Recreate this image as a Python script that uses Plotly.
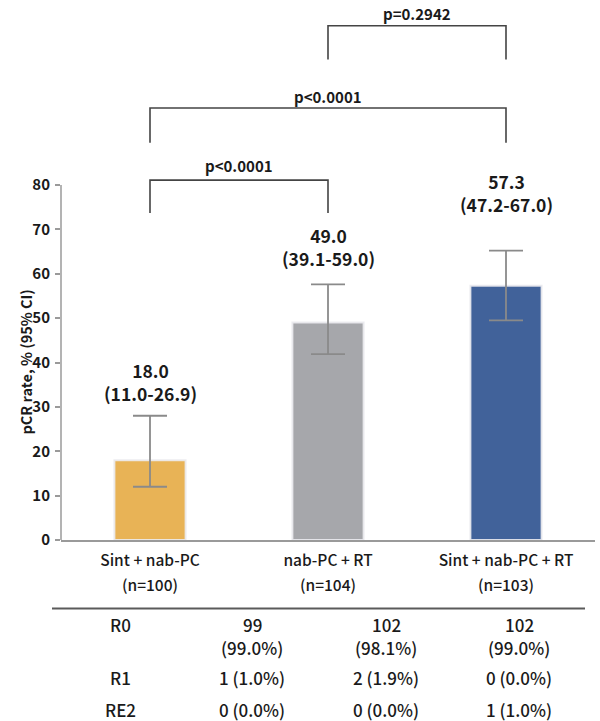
import plotly.graph_objects as go

# ---- data ----
categories = ["Sint + nab-PC", "nab-PC + RT", "Sint + nab-PC + RT"]
n_patients = [100, 104, 103]
pcr_rate = [18.0, 49.0, 57.3]
ci_text = ["(11.0-26.9)", "(39.1-59.0)", "(47.2-67.0)"]
ci_low_drawn = [12.0, 41.9, 49.5]
ci_high_drawn = [28.0, 57.6, 65.2]
bar_colors = ["#E8B356", "#A6A7AB", "#41629A"]
label_y = [35.6, 66.1, 78.2]

# p-value brackets
bracket_left = [0, 0, 1]
bracket_right = [1, 2, 2]
bracket_text = ["p<0.0001", "p<0.0001", "p=0.2942"]
bracket_level = [81.1, 97.35, 115.9]
bracket_leg = [73.7, 89.5, 108.3]
bracket_text_y = [84.3, 99.9, 118.7]

y_ticks = [0, 10, 20, 30, 40, 50, 60, 70, 80]

row_labels = ["R0", "R1", "RE2"]
row_counts = [[99, 102, 102], [1, 2, 0], [0, 0, 1]]
row_pcts = [["99.0%", "98.1%", "99.0%"], ["1.0%", "1.9%", "0.0%"], ["0.0%", "0.0%", "1.0%"]]
row_two_lines = [True, False, False]

FONT = "Noto Sans CJK KR"

# ---- geometry (pixels) ----
W, H = 600, 721
L, R, T, B = 61, 5, 5, 181
plot_w = W - L - R
plot_h = H - T - B
px_per_unit = 355 / 80.0
y_top = plot_h / px_per_unit


def px2paper_x(px):
    return (px - L) / plot_w


def py2paper_y(py):
    return (H - B - py) / plot_h


err_plus = [h - v for h, v in zip(ci_high_drawn, pcr_rate)]
err_minus = [v - l for l, v in zip(ci_low_drawn, pcr_rate)]

fig = go.Figure()
fig.add_trace(go.Bar(
    x=categories,
    y=pcr_rate,
    width=0.4,
    marker=dict(color=bar_colors, line=dict(color="rgba(235,235,240,0.9)", width=2)),
    error_y=dict(type="data", symmetric=False, array=err_plus, arrayminus=err_minus,
                 color="#8a8a8a", thickness=1.8, width=17),
    showlegend=False,
    hoverinfo="skip",
))

annotations = []
shapes = []

# value labels
for i, c in enumerate(categories):
    annotations.append(dict(
        x=c, y=label_y[i], xref="x", yref="y",
        text=f"{pcr_rate[i]:.1f}<br>{ci_text[i]}",
        showarrow=False, yanchor="middle", xanchor="center",
        font=dict(family=FONT, size=17.5, color="#1a1a1a", weight="bold"),
    ))
    # second line of category label: group size
    annotations.append(dict(
        x=c, y=py2paper_y(583.5), xref="x", yref="paper",
        text=f"(n={n_patients[i]})", showarrow=False, borderpad=0,
        yanchor="middle", xanchor="center",
        font=dict(family=FONT, size=15.5, color="#1a1a1a", weight=500),
    ))

# brackets
for lft, rgt, txt, lvl, leg, ty in zip(bracket_left, bracket_right, bracket_text,
                                        bracket_level, bracket_leg, bracket_text_y):
    path = f"M {lft},{leg} L {lft},{lvl} L {rgt},{lvl} L {rgt},{leg}"
    shapes.append(dict(type="path", xref="x", yref="y",
                       path=path, line=dict(color="#444444", width=1.6)))
    annotations.append(dict(
        x=(lft + rgt) / 2, y=ty, xref="x", yref="y", text=txt, showarrow=False,
        yanchor="middle", xanchor="center",
        font=dict(family=FONT, size=15, color="#1a1a1a", weight="bold"),
    ))

# y axis line (0..80)
shapes.append(dict(type="line", xref="paper", yref="y", x0=0, x1=0, y0=0, y1=y_ticks[-1],
                   line=dict(color="#9a9a9a", width=1.5)))

# y axis title
annotations.append(dict(
    x=px2paper_x(25), y=40, xref="paper", yref="y", text="pCR rate, % (95% CI)",
    textangle=-90, showarrow=False, xanchor="center", yanchor="middle",
    font=dict(family=FONT, size=14.5, color="#1a1a1a", weight="bold"),
))

# table separator line
shapes.append(dict(type="line", xref="paper", yref="paper",
                   x0=px2paper_x(52), x1=px2paper_x(585),
                   y0=py2paper_y(608.5), y1=py2paper_y(608.5),
                   line=dict(color="#5a5a5a", width=2.2)))

# table text
col_x = [252, 386, 519]
row_y = [624.0, 677.7, 709]
second_line_y = 647.5
tfont = dict(family=FONT, size=17, color="#1a1a1a", weight=500)
for r, lab in enumerate(row_labels):
    annotations.append(dict(
        x=px2paper_x(120), y=py2paper_y(row_y[r]), xref="paper", yref="paper",
        text=lab, showarrow=False, xanchor="center", yanchor="middle", font=tfont,
    ))
    for ci in range(3):
        if row_two_lines[r]:
            annotations.append(dict(
                x=px2paper_x(col_x[ci]), y=py2paper_y(row_y[r]), xref="paper", yref="paper",
                text=f"{row_counts[r][ci]}", showarrow=False,
                xanchor="center", yanchor="middle", font=tfont,
            ))
            annotations.append(dict(
                x=px2paper_x(col_x[ci]), y=py2paper_y(second_line_y), xref="paper", yref="paper",
                text=f"({row_pcts[r][ci]})", showarrow=False,
                xanchor="center", yanchor="middle", font=tfont,
            ))
        else:
            annotations.append(dict(
                x=px2paper_x(col_x[ci]), y=py2paper_y(row_y[r]), xref="paper", yref="paper",
                text=f"{row_counts[r][ci]} ({row_pcts[r][ci]})", showarrow=False,
                xanchor="center", yanchor="middle", font=tfont,
            ))

fig.update_layout(
    width=W, height=H,
    margin=dict(l=L, r=R, t=T, b=B, pad=0),
    paper_bgcolor="white", plot_bgcolor="white",
    font=dict(family=FONT, color="#1a1a1a"),
    shapes=shapes, annotations=annotations,
    bargap=0.6,
)
fig.update_xaxes(
    type="category", range=[-0.5, 2.5],
    showline=True, linecolor="#9a9a9a", linewidth=1.5,
    ticks="", showgrid=False, zeroline=False,
    tickfont=dict(family=FONT, size=15.5, color="#1a1a1a", weight=500),
    ticklabelstandoff=6,
)
fig.update_yaxes(
    range=[0, y_top], tickvals=y_ticks, ticktext=[str(v) for v in y_ticks],
    showline=False, showgrid=False, zeroline=False,
    ticks="outside", ticklen=5, tickcolor="#9a9a9a", tickwidth=1.5,
    tickfont=dict(family=FONT, size=15, color="#1a1a1a", weight="bold"),
    ticklabelstandoff=2,
)

fig.write_html("out.html")
